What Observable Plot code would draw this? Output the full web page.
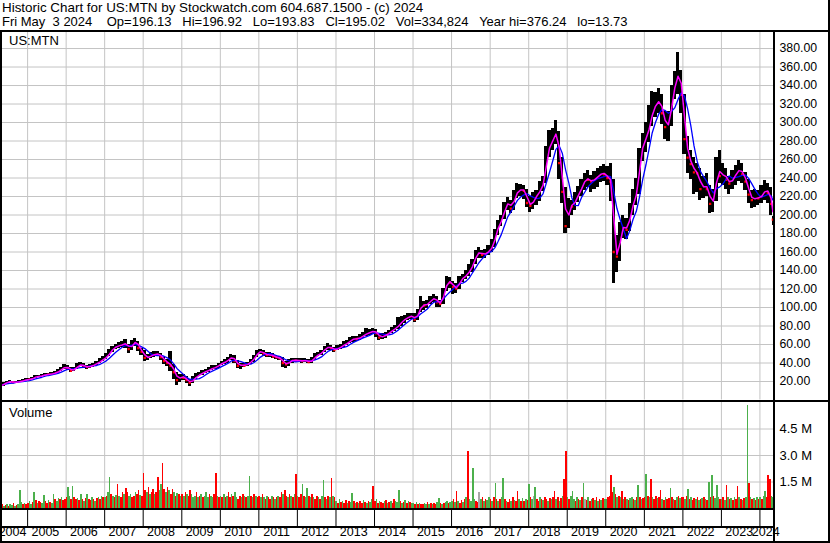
<!DOCTYPE html>
<html><head><meta charset="utf-8">
<script src="https://cdn.jsdelivr.net/npm/d3@7"></script>
<script src="https://cdn.jsdelivr.net/npm/@observablehq/plot@0.6"></script>
<style>
body{margin:0;background:#fff;}
#wrap{position:relative;width:830px;height:543px;overflow:hidden;background:#fff;font-family:"Liberation Sans",Arial,sans-serif;color:#000;}
.t{position:absolute;font-size:13.4px;white-space:pre;line-height:14px;}
.ln{position:absolute;background:#000;z-index:5;}
.pane{position:absolute;left:0;}
</style></head><body>
<div id="wrap">
  <div id="title" class="t" style="left:2px;top:1px"></div>
  <div id="quote" class="t" style="left:2px;top:15px;font-size:13px"></div>
  <div id="price" class="pane" style="top:30px"></div>
  <div id="vol" class="pane" style="top:401px"></div>
  <div id="sym" class="t" style="left:9px;top:34px;font-size:13px;z-index:6"></div>
  <div id="vlab" class="t" style="left:9px;top:406px;font-size:13px;z-index:6"></div>
  <div class="ln" style="left:0;top:30px;width:830px;height:2px"></div>
  <div class="ln" style="left:0;top:30px;width:2px;height:513px"></div>
  <div class="ln" style="left:773px;top:30px;width:2px;height:513px"></div>
  <div class="ln" style="left:828px;top:0;width:2px;height:543px"></div>
  <div class="ln" style="left:0;top:400px;width:830px;height:2px"></div>
  <div class="ln" style="left:0;top:508px;width:775px;height:2px"></div>
  <div class="ln" style="left:0;top:526px;width:775px;height:2px"></div>
  <div class="ln" style="left:0;top:541px;width:830px;height:2px"></div>
</div>
<script>
// ---------- text ----------
const titleText = "Historic Chart for US:MTN by Stockwatch.com 604.687.1500 - (c) 2024";
const quoteFields = ["Fri May  3 2024 ", "Op=196.13", "Hi=196.92", "Lo=193.83", "Cl=195.02", "Vol=334,824", "Year hi=376.24", "lo=13.73"];
const symbolLabel = "US:MTN";
const volumeLabel = "Volume";

// ---------- price data: monthly, Apr 2004 .. May 2024 ----------
const firstMonth = "2004-04-01";
const lastTradeDate = "2024-05-03";
const monthlyClose = [
  15.5,17.5,19.5,19.8,19.0,19.4,19.9,21.0,22.4,
  22.0,23.8,25.2,25.5,26.5,27.8,27.5,28.5,29.5,31.0,34.0,36.0,
  34.5,31.5,33.5,37.0,38.5,36.5,35.5,36.5,38.0,40.0,42.0,44.8,
  47.0,52.0,56.0,58.0,59.0,60.0,61.5,55.0,60.5,64.0,56.0,52.0,
  45.5,46.5,48.5,49.5,50.0,46.5,42.0,40.0,37.0,30.0,21.5,26.0,
  24.0,21.5,18.5,22.5,26.0,27.5,30.0,31.0,33.0,34.5,35.5,38.5,
  40.0,41.5,44.0,47.0,42.0,37.0,38.0,37.0,39.5,42.0,46.0,52.0,
  52.5,50.0,48.5,49.0,47.0,46.0,45.0,40.0,38.5,42.0,43.5,42.5,
  43.0,42.0,43.0,41.0,43.0,48.0,49.0,52.0,56.0,57.5,56.0,54.0,
  56.0,58.0,60.0,62.0,65.0,66.5,66.0,68.0,70.0,72.5,73.0,75.0,
  72.0,67.5,69.0,70.5,73.0,76.0,78.0,81.5,86.0,88.0,90.0,91.0,
  87,95,103.5,102,104.5,108.5,110.5,105.5,104,118,129,127,
  122,120.5,130.5,132,136,140,148,158,160,157,158.5,162,
  166,180,190,196,210,214,207,222,226,228,226,213,
  210,218,222,228,236,268,276,284,291,256,225,188,
  212,209,218,224,232,240,238,236,240,242,246,244,
  240,236,160,155,185,188,184,205,215,228,265,280,
  285,300,315,320,325,310,295,300,330,345,355,330,
  282,262,255,246,245,228,233,228,212,218,252,242,
  245,238,234,240,246,250,244,236,222,216,219,218,
  222,228,224,212,195
];
const monthlyHigh = [
  17.0,18.5,20.5,21.0,20.2,20.4,20.8,22.0,23.2,
  23.4,24.6,26.0,26.6,27.4,28.6,29.0,29.5,30.8,32.5,35.5,38.5,
  37.5,35.0,35.0,39.0,40.5,39.0,37.5,38.0,39.5,42.0,44.5,46.5,
  50.0,55.0,58.0,60.5,62.0,63.5,65.0,60.0,64.0,67.0,63.0,56.0,
  53.0,49.0,51.0,52.0,52.5,50.0,46.0,44.0,52.0,38.0,30.0,28.0,
  28.0,25.0,22.0,25.0,28.5,30.0,32.0,33.5,35.0,37.0,37.5,40.0,
  42.0,43.5,46.0,49.5,48.0,43.0,40.0,39.5,41.0,44.0,48.5,53.5,
  55.0,53.5,51.0,51.5,50.0,48.5,47.5,45.5,42.0,44.0,45.0,45.0,
  45.0,44.5,45.0,44.0,46.0,50.0,51.5,54.0,58.0,61.0,59.0,57.0,
  58.5,60.0,63.0,64.0,67.5,69.0,69.0,71.0,73.0,77.5,76.0,77.0,
  76.0,71.0,72.0,73.0,75.5,78.5,81.0,89.0,90.0,91.5,93.0,94.0,
  93,98,112,106,108,112,114,112,108,121,133,132,
  128,126,134,136,140,146,152,162,164.5,162,163,167,
  173,184,194,200,214,219,216,226,234,233,232,228,
  220,224,227,236,242,274,291,294,302,290,262,230,
  218,216,224,231,238,245,248,243,247,250,252,255,
  252,256,238,178,192,200,196,212,228,240,272,288,
  300,318,334,332,337,330,312,312,340,355,376,356,
  330,285,270,262,256,250,242,245,232,228,262,270,
  256,250,242,248,254,259,256,246,238,226,228,226,
  232,237,234,230,198
];
const monthlyLow = [
  13.7,15.0,17.2,18.6,18.0,18.3,18.8,19.6,20.8,
  21.0,21.8,23.5,24.2,25.0,26.0,26.5,27.0,27.8,28.6,30.5,33.0,
  32.0,30.0,31.0,33.0,36.0,34.5,33.5,34.5,35.5,37.5,39.5,42.0,
  44.0,47.0,51.0,54.5,56.0,57.0,56.0,50.0,54.0,58.0,52.0,48.0,
  42.0,43.0,44.5,46.0,47.0,43.0,38.0,36.0,31.0,22.0,15.5,19.0,
  21.0,18.0,14.8,17.5,22.0,25.0,26.5,28.5,29.5,31.5,32.5,34.5,
  37.0,38.5,40.0,43.0,39.0,34.0,33.5,35.0,36.0,38.5,41.0,45.5,
  49.0,47.0,45.5,46.0,45.0,43.5,42.5,35.0,34.5,36.5,40.0,40.5,
  40.5,40.0,40.5,39.0,40.0,42.5,46.5,48.0,51.0,53.5,53.0,51.5,
  53.0,55.0,57.0,58.5,61.0,62.5,63.0,64.5,66.5,68.5,70.0,71.0,
  67.5,64.5,65.5,67.0,69.5,72.0,74.5,76.0,80.0,82.5,86.0,86.5,
  84,86,94.5,97,99,103,105.5,100.5,99.5,103,117,121,
  114.5,115,120,126.5,130,133,138,146,153,152.5,153,156,
  159,165,178,188,195,205,202,205,218,220,217,208,
  203,206,210,215,225,234,262,270,276,238,212,180,
  185,200,205,214,220,226,230,224,228,230,235,236,
  232,215,126,138,150,175,174,182,200,210,222,258,
  268,278,296,305,310,298,282,280,296,325,330,310,
  265,245,238,222,224,216,218,220,202,203,215,234,
  232,228,222,228,232,236,234,226,212,207,208,210,
  212,216,212,200,189
];

// ---------- volume: semi-monthly bars (millions), from 2004-04-16 ----------
const firstVolumeDate = "2004-04-16";
const volumeM = [
  0.15,0.2,0.12,0.18,0.25,0.12,0.2,0.15,0.3,0.12,0.18,0.25,1.0,0.35,0.22,0.3,0.25,
  0.3,0.4,0.25,0.35,0.9,0.45,0.3,0.4,0.35,0.3,0.75,0.4,0.3,0.45,0.35,0.3,0.8,0.5,0.4,0.55,0.5,0.6,0.45,0.5,
  0.6,1.2,0.7,0.5,1.25,0.6,0.5,0.55,0.45,0.8,0.5,0.4,0.55,0.8,0.5,0.45,0.6,0.5,0.4,0.55,0.6,0.5,0.7,0.6,
  0.6,0.7,0.9,1.77,0.8,0.7,0.6,0.75,1.37,0.7,0.6,0.9,0.8,1.16,0.9,0.7,0.8,0.6,0.7,0.9,0.8,1.0,0.75,0.7,
  1.98,1.0,0.9,1.2,0.8,0.9,1.1,0.8,0.9,1.73,1.0,1.37,2.55,1.1,0.9,1.2,1.0,0.8,1.1,0.9,0.7,0.85,0.8,0.7,
  0.8,0.7,0.9,0.8,0.7,1.0,0.8,0.6,0.7,0.9,0.6,0.7,0.8,0.6,0.7,0.9,0.6,0.8,0.7,0.6,0.8,1.98,0.7,0.6,
  0.7,0.6,0.8,0.6,0.7,0.9,0.6,0.8,0.7,0.9,0.6,0.5,0.7,0.6,0.8,0.7,0.6,0.7,1.83,0.7,0.6,0.8,0.7,0.6,
  0.7,0.6,0.8,0.6,0.5,0.7,0.6,0.5,0.7,0.6,0.5,0.6,0.7,0.6,0.9,0.8,1.0,0.7,0.6,0.8,0.7,0.6,0.8,1.92,
  0.7,0.6,0.8,1.35,0.7,0.6,1.16,0.7,0.6,0.8,0.6,0.5,0.7,0.6,0.5,0.7,1.6,0.6,0.5,0.7,0.6,1.67,0.7,0.6,
  0.4,0.3,0.5,0.35,0.4,0.3,0.45,0.3,0.4,0.35,0.87,0.4,0.3,0.35,0.3,0.4,0.3,0.45,0.35,0.3,0.4,0.35,0.5,1.26,
  0.4,0.5,0.3,0.4,0.35,0.3,0.4,0.45,0.3,0.35,0.4,0.3,0.5,0.4,0.35,1.03,0.4,0.3,0.35,0.45,0.3,0.4,0.35,0.3,
  0.3,0.25,0.35,0.2,0.3,0.25,0.2,0.3,0.25,0.35,0.2,0.3,0.25,0.3,0.2,0.35,0.59,0.3,0.25,0.3,0.35,0.4,0.3,0.35,
  0.4,0.5,0.35,0.97,0.4,0.3,0.45,0.35,0.5,0.6,3.2,0.5,0.4,2.27,0.5,0.4,0.35,0.9,0.5,0.6,0.4,0.5,0.45,0.6,
  0.5,0.4,0.6,1.41,0.5,0.4,0.5,0.6,1.71,0.5,0.4,0.35,0.5,0.4,0.6,0.45,0.4,0.97,0.5,0.4,0.55,0.4,0.5,0.45,
  1.37,0.6,0.5,0.7,1.2,0.5,0.4,0.6,0.5,0.45,0.6,0.5,0.4,0.55,0.5,0.6,0.97,0.5,0.6,0.4,0.55,0.7,1.66,3.2,
  0.6,0.5,0.7,0.97,0.5,0.4,0.6,0.5,0.45,0.6,1.39,0.5,0.45,0.6,0.4,0.5,0.55,0.45,0.6,0.4,0.5,0.45,0.55,0.5,
  0.5,0.6,0.7,1.89,0.9,1.2,0.8,0.6,0.7,0.6,0.97,0.5,0.6,0.5,0.45,0.55,0.6,0.5,0.45,0.6,1.3,0.6,0.5,0.55,
  0.6,1.94,0.7,0.6,1.64,0.6,0.5,0.7,0.55,0.6,1.03,0.5,0.45,0.6,0.5,0.55,1.14,0.6,0.5,0.45,0.6,0.7,0.55,0.6,
  0.6,0.5,0.7,1.09,0.5,0.6,0.45,0.55,0.5,0.6,0.45,0.5,0.55,0.6,0.5,0.45,1.5,0.6,1.89,0.7,0.55,1.3,0.6,0.5,
  0.5,0.6,0.45,1.31,0.6,0.5,0.55,0.45,0.6,0.5,1.24,0.6,0.5,0.45,0.55,0.6,5.83,1.43,0.6,0.5,0.55,0.45,0.6,0.5,
  0.6,0.5,0.7,0.97,0.6,1.89,1.66,0.7,0.6
];
// g = up, r = down, n = unchanged
const volumeDirection = [
  "grgrgrggrgrgggrgr",
  "rggrgrgrrggrrgrggrggrgrr",
  "rggrgrrgrgrgrgrrgrgrgrgr",
  "grggrgrgrgrrgrrggrrgrrgr",
  "rrgrgrrgrrggrrgrgrrgrgrg",
  "rgrgrrgggrgrgrgggrggrrgr",
  "grgrgrrgrggrrgrgrggrgrgr",
  "rgrgrgrrgrgrgrrgrrgrgrgr",
  "grrgrggrgrgrrgrggrgrgrgr",
  "grgrgrrgrggrgrgrrgrgrggr",
  "rgrgrrgrgrgrrgggrgrgrgrg",
  "grgrgrrggrgrgrrggrgrggrg",
  "grgrgrrgrgrggggrrngrgrgg",
  "rgrgrgrggrgrrgrgrrgrgrgr",
  "grgngrrgrgrrgrgrrgrgrgrr",
  "grgggrgrgrgnrgrgrgrgrgrg",
  "grrrrgrgrgrgrgrggrgrgrgr",
  "rgrgrgrrgrrgrgrrgrgrgrgr",
  "rgrgrgrrgrgrgrgrgrgrgggr",
  "grgrgrgrgrrgrgrggrgrgrgr",
  "grggrrrgg"
].join("");

// ---------- axes ----------
const years = d3.range(2004, 2025);
const priceTicks = d3.range(20, 381, 20);
const volumeTicks = [1.5, 3.0, 4.5];

// ---------- build ----------
const parse = d3.utcParse("%Y-%m-%d");
const domainStart = parse("2004-04-19"), domainEnd = parse("2024-05-18");
const m0 = parse(firstMonth), lastDay = d3.utcDay.offset(parse(lastTradeDate), 1);
const months = monthlyClose.map((c, i) => {
  const d0 = d3.utcMonth.offset(m0, i);
  let d1 = d3.utcMonth.offset(d0, 1);
  if (d1 > lastDay) d1 = lastDay;
  return {d0, d1, mid: new Date((+d0 + +d1) / 2), close: c, high: monthlyHigh[i], low: monthlyLow[i],
          down: i > 0 && c < monthlyClose[i - 1]};
});
const v0 = parse(firstVolumeDate);
function semi(date, k) { // step k half-months
  const idx = date.getUTCFullYear() * 24 + date.getUTCMonth() * 2 + (date.getUTCDate() >= 16 ? 1 : 0) + k;
  return new Date(Date.UTC(Math.floor(idx / 24), Math.floor((idx % 24) / 2), idx % 2 ? 16 : 1));
}
const vols = volumeM.map((v, i) => ({d0: semi(v0, i), d1: semi(v0, i + 1), v, dir: volumeDirection[i] || "g"}));
const yearTicks = years.slice(1).map(y => new Date(Date.UTC(y, 0, 1)));
const yearLabels = years.map(y => {
  const a = new Date(Math.max(+domainStart, Date.UTC(y, 0, 1)));
  const b = new Date(Math.min(+domainEnd, Date.UTC(y + 1, 0, 1)));
  return {label: String(y), mid: new Date((+a + +b) / 2)};
});

const grid = "#c4c4c4";
const style = {fontFamily: "'Liberation Sans', Arial, sans-serif", fontSize: "13px", color: "#000", background: "transparent", overflow: "visible"};

const price = Plot.plot({
  width: 830, height: 372, marginLeft: 0, marginRight: 56, marginTop: 1, marginBottom: 2.5,
  style,
  x: {type: "utc", domain: [domainStart, domainEnd], axis: null},
  y: {domain: [0, 398.4], label: null},
  marks: [
    Plot.gridX(yearTicks, {stroke: grid, strokeOpacity: 1}),
    Plot.gridY(priceTicks, {stroke: grid, strokeOpacity: 1}),
    Plot.axisY(priceTicks, {anchor: "right", label: null, tickSize: 0, tickPadding: 5, fontSize: 12.3, tickFormat: d => d.toFixed(2)}),
    Plot.rect(months, {x1: "d0", x2: "d1", y1: "low", y2: "high", fill: "#000", shapeRendering: "crispEdges", clip: true}),
    Plot.dot(months.filter(d => d.down), {x: "mid", y: "close", symbol: "square", r: 1.3, fill: "#ff0000", stroke: null, clip: true}),
    Plot.lineY(months, Plot.windowY({k: 5, anchor: "end"}, {x: "mid", y: "close", stroke: "#0000ff", strokeWidth: 1.3, clip: true})),
    Plot.lineY(months, Plot.windowY({k: 2, anchor: "end"}, {x: "mid", y: "close", stroke: "#ff00ff", strokeWidth: 1.5, clip: true}))
  ]
});
document.getElementById("price").appendChild(price);

const vol = Plot.plot({
  width: 830, height: 142, marginLeft: 0, marginRight: 56, marginTop: 1, marginBottom: 35,
  style,
  x: {type: "utc", domain: [domainStart, domainEnd], label: null},
  y: {domain: [0, 6.0], label: null},
  color: {type: "ordinal", domain: ["g", "r", "n"], range: ["#4cb04c", "#ff0000", "#a8a8a8"]},
  marks: [
    Plot.gridX(yearTicks, {stroke: grid, strokeOpacity: 1}),
    Plot.gridY(volumeTicks, {stroke: grid, strokeOpacity: 1}),
    Plot.axisY(volumeTicks, {anchor: "right", label: null, tickSize: 0, tickPadding: 5, fontSize: 13, tickFormat: d => d.toFixed(1) + " M"}),
    Plot.rect(vols, {x1: "d0", x2: "d1", y1: 0, y2: "v", fill: "dir", shapeRendering: "crispEdges", clip: true}),
    Plot.axisX(yearTicks, {label: null, tickSize: 19, tickFormat: () => "", stroke: "#000", strokeOpacity: 1}),
    Plot.text(yearLabels, {x: "mid", text: "label", frameAnchor: "bottom", dy: 27, dx: -1.5, fontSize: 12.5, fill: "#000"})
  ]
});
document.getElementById("vol").appendChild(vol);

document.getElementById("title").textContent = titleText;
document.getElementById("quote").textContent = quoteFields.join("   ");
document.getElementById("sym").textContent = symbolLabel;
document.getElementById("vlab").textContent = volumeLabel;
</script>
</body></html>
